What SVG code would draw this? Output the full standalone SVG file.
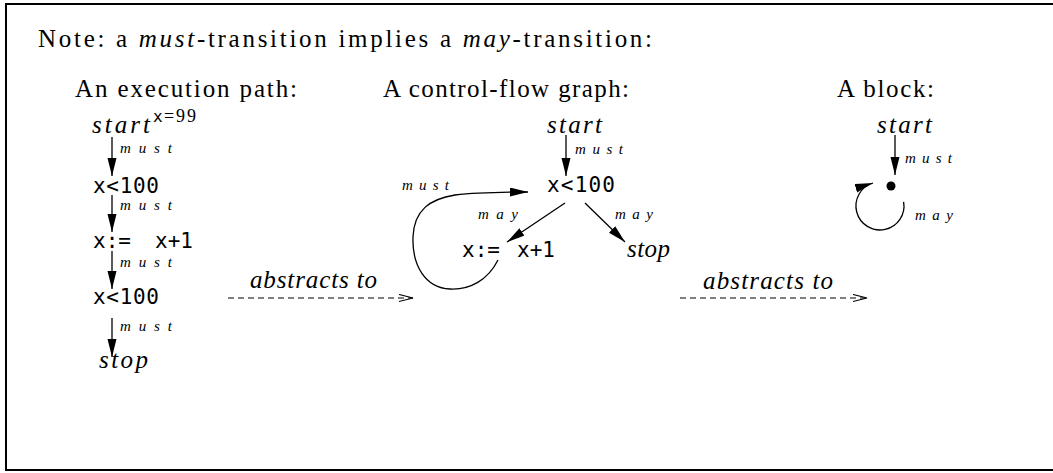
<svg xmlns="http://www.w3.org/2000/svg" width="1053" height="473" viewBox="0 0 1053 473">
<defs>
<style>
.rm{font-family:"Liberation Serif",serif;font-size:25px;fill:#000}
.it{font-family:"Liberation Serif",serif;font-style:italic;font-size:25px;fill:#000}
.lb{font-family:"Liberation Serif",serif;font-style:italic;font-size:15px;fill:#000}
.tt{font-family:"DejaVu Sans Mono",monospace;font-size:21px;fill:#000}
.edge{fill:none;stroke:#000;stroke-width:1.3;marker-end:url(#ah)}
.dash{fill:none;stroke:#000;stroke-width:1.2;stroke-dasharray:6,4;marker-end:url(#oh)}
</style>
<marker id="ah" markerUnits="userSpaceOnUse" markerWidth="20" markerHeight="12" refX="18" refY="4.5" orient="auto">
<path d="M0,0 L18,4.5 L0,9 z" fill="#000" stroke="none"/>
</marker>
<marker id="oh" markerUnits="userSpaceOnUse" markerWidth="16" markerHeight="10" refX="14" refY="4" orient="auto">
<path d="M0,0.5 L14,4 L0,7.5" fill="none" stroke="#000" stroke-width="1.2" stroke-dasharray="none"/>
</marker>
</defs>
<rect x="6" y="4" width="1060" height="466" fill="#fff" stroke="#000" stroke-width="2"/>
<g id="title">
<text class="rm" x="38" y="47" textLength="614" lengthAdjust="spacing">Note: a <tspan class="it">must</tspan>-transition implies a <tspan class="it">may</tspan>-transition:</text>
</g>
<g id="headings">
<text class="rm" x="75" y="97" textLength="222" lengthAdjust="spacing">An execution path:</text>
<text class="rm" x="383" y="97" textLength="246" lengthAdjust="spacing">A control-flow graph:</text>
<text class="rm" x="837" y="97" textLength="97" lengthAdjust="spacing">A block:</text>
</g>
<g id="connectors">
<path class="edge" d="M112,137 L112,176"/>
<path class="edge" d="M112,195 L112,232"/>
<path class="edge" d="M112,251 L112,289"/>
<path class="edge" d="M112,318 L112,357"/>
<path class="edge" d="M566,135 L566,176"/>
<path class="edge" d="M498,260 C488,280 470,290 450,289 C425,288 412,265 413,237 C414,210 430,199 455,195 C480,192 505,192 528,192"/>
<path class="edge" d="M565,203 L507,242"/>
<path class="edge" d="M585,203 L625,242"/>
<path class="edge" d="M895,135 L895,175"/>
<path class="edge" d="M903.6,201.8 A24,24 0 1,1 873,183"/>
<path class="dash" d="M228,298 L413,298"/>
<path class="dash" d="M680,298 L867,298"/>
</g>
<g id="edge-labels">
<text class="lb" x="120" y="153" textLength="52" lengthAdjust="spacing">must</text>
<text class="lb" x="120" y="210" textLength="52" lengthAdjust="spacing">must</text>
<text class="lb" x="120" y="267" textLength="52" lengthAdjust="spacing">must</text>
<text class="lb" x="120" y="331" textLength="52" lengthAdjust="spacing">must</text>
<text class="lb" x="575" y="154" textLength="48" lengthAdjust="spacing">must</text>
<text class="lb" x="402" y="190" textLength="47" lengthAdjust="spacing">must</text>
<text class="lb" x="478" y="219" textLength="40" lengthAdjust="spacing">may</text>
<text class="lb" x="615" y="219" textLength="38" lengthAdjust="spacing">may</text>
<text class="lb" x="905" y="163" textLength="47" lengthAdjust="spacing">must</text>
<text class="lb" x="915" y="220" textLength="38" lengthAdjust="spacing">may</text>
<text class="it" x="250" y="288" textLength="127" lengthAdjust="spacing" font-size="22">abstracts to</text>
<text class="it" x="703" y="289" textLength="130" lengthAdjust="spacing" font-size="22">abstracts to</text>
</g>
<g id="path-start">
<text class="it" x="92" y="133" textLength="58" lengthAdjust="spacing">start</text>
<text x="153" y="122" font-family="DejaVu Sans Mono, monospace" font-size="16" fill="#000">x</text>
<text x="164" y="122" font-family="Liberation Serif, serif" font-size="18" fill="#000" textLength="32" lengthAdjust="spacing">=99</text>
</g>
<g id="path-cond1"><text class="tt" x="93" y="193" textLength="66" lengthAdjust="spacing">x&lt;100</text></g>
<g id="path-assign"><text class="tt" x="93" y="248">x:= <tspan x="155">x+1</tspan></text></g>
<g id="path-cond2"><text class="tt" x="93" y="304" textLength="66" lengthAdjust="spacing">x&lt;100</text></g>
<g id="path-stop"><text class="it" x="99" y="368" textLength="49" lengthAdjust="spacing">stop</text></g>
<g id="cfg-start"><text class="it" x="547" y="133" textLength="55" lengthAdjust="spacing">start</text></g>
<g id="cfg-cond"><text class="tt" x="547" y="192" textLength="68" lengthAdjust="spacing">x&lt;100</text></g>
<g id="cfg-assign"><text class="tt" x="462" y="257">x:= <tspan x="517">x+1</tspan></text></g>
<g id="cfg-stop"><text class="it" x="627" y="257" textLength="43" lengthAdjust="spacing">stop</text></g>
<g id="block-start"><text class="it" x="877" y="133" textLength="55" lengthAdjust="spacing">start</text></g>
<g id="block-node"><circle cx="891" cy="186" r="4.5" fill="#000"/></g>
</svg>
